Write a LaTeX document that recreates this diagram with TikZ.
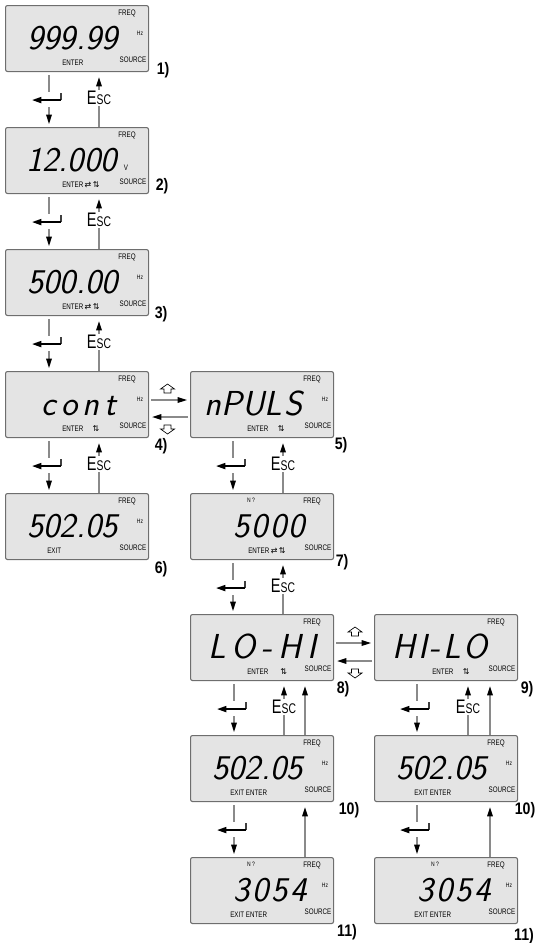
\documentclass[tikz,border=0pt]{standalone}
\usepackage{fontspec}
\setmainfont{Liberation Sans}
\newfontfamily\condfont[FakeStretch=0.78]{Liberation Sans}
\newfontfamily\lblfont[FakeStretch=0.85]{Liberation Sans}
\newfontfamily\escfont[FakeStretch=0.74]{Liberation Sans}
\newfontfamily\symfont{DejaVu Sans}
\usetikzlibrary{calc,arrows.meta}

\definecolor{lcdfill}{HTML}{E4E4E4}
\definecolor{lcdedge}{HTML}{6E6E6E}
\definecolor{connc}{HTML}{8A8A8A}

\tikzset{
  lcd/.style={draw=lcdedge, fill=lcdfill, line width=0.8pt, rounded corners=1.5pt,
    minimum width=107.25pt, minimum height=49.5pt, inner sep=0pt, anchor=north west},
  tinytxt/.style={font=\condfont\fontsize{6}{6}\selectfont, inner sep=0pt},
  tiniertxt/.style={font=\condfont\fontsize{4.8}{5}\selectfont, inner sep=0pt},
  disptxt/.style={font=\sffamily\slshape\fontsize{26}{26}\selectfont, inner sep=0pt, anchor=base east},
  numlbl/.style={font=\lblfont\bfseries\fontsize{12.5}{12.5}\selectfont, inner sep=0pt},
  escnode/.style={font=\escfont\fontsize{14.7}{15}\selectfont, fill=white, inner sep=0.8pt},
  conn/.style={draw=connc, line width=1pt},
  connarr/.style={conn, -{Triangle[length=7pt,width=4.2pt,color=black]}},
  entersym/.style={draw=black, line width=1.3pt, -{Triangle[length=7pt,width=4.5pt]}},
  entertick/.style={draw=black!75, line width=0.8pt},
  hollow/.style={draw=black, line width=0.5pt, fill=white, line join=miter},
}

% box contents
\newcommand\Lfreq[1]{\node[tinytxt] (#1-f) at ($(#1.north west)+(122,8)$) {FREQ};}
\newcommand\Lhz[1]{\node[tiniertxt] (#1-hz) at ($(#1.north west)+(135,28)$) {Hz};}
\newcommand\Lsrc[1]{\node[tinytxt] (#1-s) at ($(#1.north west)+(128,55)$) {SOURCE};}
\newcommand\Lnq[1]{\node[tiniertxt] (#1-n) at ($(#1.north west)+(61,7)$) {N ?};}
\newcommand\Lbot[3]{\node[tinytxt, anchor=west] (#1-e) at ($(#1.north west)+(#2,58)$) {#3};}
\newcommand\Ldisp[3]{\node[disptxt] (#1-d) at ($(#1.north west)+(#2,44)$) {#3};}
\newcommand\symb[1]{{\symfont\fontsize{6}{6}\selectfont #1}}

% connectors
\newcommand\enterlink[3]{%
  \draw[conn] ($(#1.south west)+(#3,3)$) -- ($(#1.south west)+(#3,20)$);
  \draw[entertick] ($(#1.south west)+({#3+12},21)$) -- ($(#1.south west)+({#3+12},28)$);
  \draw[entersym] ($(#1.south west)+({#3+12},28)$) -- ($(#1.south west)+({#3-17},28)$);
  \draw[connarr] ($(#1.south west)+(#3,35)$) -- ($(#2.north west)+(#3,-3)$);
}
\newcommand\esclink[4]{%
  \draw[connarr] ($(#2.north west)+(#3,0)$) -- ($(#1.south west)+(#3,5)$);
  \node[escnode] (#4) at ($(#1.south west)+(#3,26)$) {E{\fontsize{10.5}{11}\selectfont SC}};
}
\newcommand\uplink[3]{%
  \draw[connarr] ($(#2.north west)+(#3,0)$) -- ($(#1.south west)+(#3,5)$);
}
\newcommand\hup[1]{\draw[hollow] ($#1+(0,-5)$) -- ++(7,5) -- ++(-3.5,0) -- ++(0,4) -- ++(-7,0) -- ++(0,-4) -- ++(-3.5,0) -- cycle;}
\newcommand\hdown[1]{\draw[hollow] ($#1+(0,5)$) -- ++(7,-5) -- ++(-3.5,0) -- ++(0,-4) -- ++(-7,0) -- ++(0,4) -- ++(-3.5,0) -- cycle;}

\begin{document}
\begin{tikzpicture}[x=0.75pt,y=-0.75pt]
\useasboundingbox (0,0) rectangle (542,943);

% ---------- boxes ----------
\node[lcd] (b1) at (5,5) {};
\node[lcd] (b2) at (5,127) {};
\node[lcd] (b3) at (5,249) {};
\node[lcd] (b4) at (5,371) {};
\node[lcd] (b5) at (190,371) {};
\node[lcd] (b6) at (5,493) {};
\node[lcd] (b7) at (190,493) {};
\node[lcd] (b8) at (190,614) {};
\node[lcd] (b9) at (374,614) {};
\node[lcd] (b10) at (190,735) {};
\node[lcd] (b10r) at (374,735) {};
\node[lcd] (b11) at (190,857) {};
\node[lcd] (b11r) at (374,857) {};

% box 1
\Lfreq{b1}\Lhz{b1}\Lsrc{b1}
\Ldisp{b1}{113}{999.99}
\Lbot{b1}{57}{ENTER}
% box 2
\Lfreq{b2}\Lsrc{b2}
\node[tinytxt] (b2-v) at ($(b2.north west)+(121,41)$) {V};
\Ldisp{b2}{112}{12.000}
\Lbot{b2}{57}{ENTER\,\symb{⇄}\,\symb{⇅}}
% box 3
\Lfreq{b3}\Lhz{b3}\Lsrc{b3}
\Ldisp{b3}{113}{500.00}
\Lbot{b3}{57}{ENTER\,\symb{⇄}\,\symb{⇅}}
% box 4
\Lfreq{b4}\Lhz{b4}\Lsrc{b4}
\Ldisp{b4}{112}{c\kern4pt o\kern4pt n\kern4pt t}
\Lbot{b4}{57}{ENTER\hspace{7pt}\symb{⇅}}
% box 5
\Lfreq{b5}\Lhz{b5}\Lsrc{b5}
\Ldisp{b5}{113}{nPUL\kern2pt S}
\Lbot{b5}{57}{ENTER\hspace{7pt}\symb{⇅}}
% box 6
\Lfreq{b6}\Lhz{b6}\Lsrc{b6}
\Ldisp{b6}{113}{502.05}
\Lbot{b6}{42}{EXIT}
% box 7
\Lnq{b7}\Lfreq{b7}\Lsrc{b7}
\Ldisp{b7}{115}{5\kern1.5pt 0\kern1.5pt 0\kern1.5pt 0}
\Lbot{b7}{58}{ENTER\,\symb{⇄}\,\symb{⇅}}
% box 8
\Lfreq{b8}\Lsrc{b8}
\Ldisp{b8}{127}{L\kern4.5pt O\kern4.5pt -\kern4.5pt H\kern4.5pt I}
\Lbot{b8}{57}{ENTER\hspace{9pt}\symb{⇅}}
% box 9
\Lfreq{b9}\Lsrc{b9}
\Ldisp{b9}{114}{H\kern2pt I\kern2pt -\kern2pt L\kern2pt O}
\Lbot{b9}{58}{ENTER\hspace{7pt}\symb{⇅}}
% box 10
\Lfreq{b10}\Lhz{b10}\Lsrc{b10}
\Ldisp{b10}{113}{502.05}
\Lbot{b10}{40}{EXIT ENTER}
\Lfreq{b10r}\Lhz{b10r}\Lsrc{b10r}
\Ldisp{b10r}{113}{502.05}
\Lbot{b10r}{40}{EXIT ENTER}
% box 11
\Lnq{b11}\Lfreq{b11}\Lhz{b11}\Lsrc{b11}
\Ldisp{b11}{117}{3\kern2pt 0\kern2pt 5\kern2pt 4}
\Lbot{b11}{40}{EXIT ENTER}
\Lnq{b11r}\Lfreq{b11r}\Lhz{b11r}\Lsrc{b11r}
\Ldisp{b11r}{117}{3\kern2pt 0\kern2pt 5\kern2pt 4}
\Lbot{b11r}{40}{EXIT ENTER}

% ---------- labels ----------
\node[numlbl] (l1) at ($(b1.south east)+(14,-2)$) {1)};
\node[numlbl] (l2) at ($(b2.south east)+(13,-8)$) {2)};
\node[numlbl] (l3) at ($(b3.south east)+(12,-2)$) {3)};
\node[numlbl] (l4) at ($(b4.south east)+(12,8)$) {4)};
\node[numlbl] (l5) at ($(b5.south east)+(7,7)$) {5)};
\node[numlbl] (l6) at ($(b6.south east)+(12,9)$) {6)};
\node[numlbl] (l7) at ($(b7.south east)+(8,2)$) {7)};
\node[numlbl] (l8) at ($(b8.south east)+(9,8)$) {8)};
\node[numlbl] (l9) at ($(b9.south east)+(9,8)$) {9)};
\node[numlbl] (l10) at ($(b10.south east)+(15,8)$) {10)};
\node[numlbl] (l10r) at ($(b10r.south east)+(7,8)$) {10)};
\node[numlbl] (l11) at ($(b11.south east)+(13,8)$) {11)};
\node[numlbl] (l11r) at ($(b11r.south east)+(6,12)$) {11)};

% ---------- vertical connectors ----------
\enterlink{b1}{b2}{44}\esclink{b1}{b2}{94}{e12}
\enterlink{b2}{b3}{44}\esclink{b2}{b3}{94}{e23}
\enterlink{b3}{b4}{44}\esclink{b3}{b4}{94}{e34}
\enterlink{b4}{b6}{44}\esclink{b4}{b6}{94}{e46}
\enterlink{b5}{b7}{43}\esclink{b5}{b7}{93}{e57}
\enterlink{b7}{b8}{43}\esclink{b7}{b8}{93}{e78}
\enterlink{b8}{b10}{44}\esclink{b8}{b10}{94}{e810}\uplink{b8}{b10}{115}
\enterlink{b10}{b11}{44}\uplink{b10}{b11}{115}
\enterlink{b9}{b10r}{43}\esclink{b9}{b10r}{94}{e910}\uplink{b9}{b10r}{116}
\enterlink{b10r}{b11r}{43}\uplink{b10r}{b11r}{116}

% ---------- horizontal connectors ----------
\draw[connarr] ($(b4.north east)+(2,29)$) -- ($(b5.north west)+(-3,29)$);
\draw[connarr] ($(b5.north west)+(-2,46)$) -- ($(b4.north east)+(3,46)$);
\coordinate (m45) at ($(b4.north east)!0.5!(b5.north west)$);
\hup{(m45)+(-2,18)}
\hdown{(m45)+(-2,58)}

\draw[connarr] ($(b8.north east)+(2,29)$) -- ($(b9.north west)+(-3,29)$);
\draw[connarr] ($(b9.north west)+(-2,47)$) -- ($(b8.north east)+(3,47)$);
\coordinate (m89) at ($(b8.north east)!0.5!(b9.north west)$);
\hup{(m89)+(1,18)}
\hdown{(m89)+(1,59)}
\end{tikzpicture}
\end{document}
